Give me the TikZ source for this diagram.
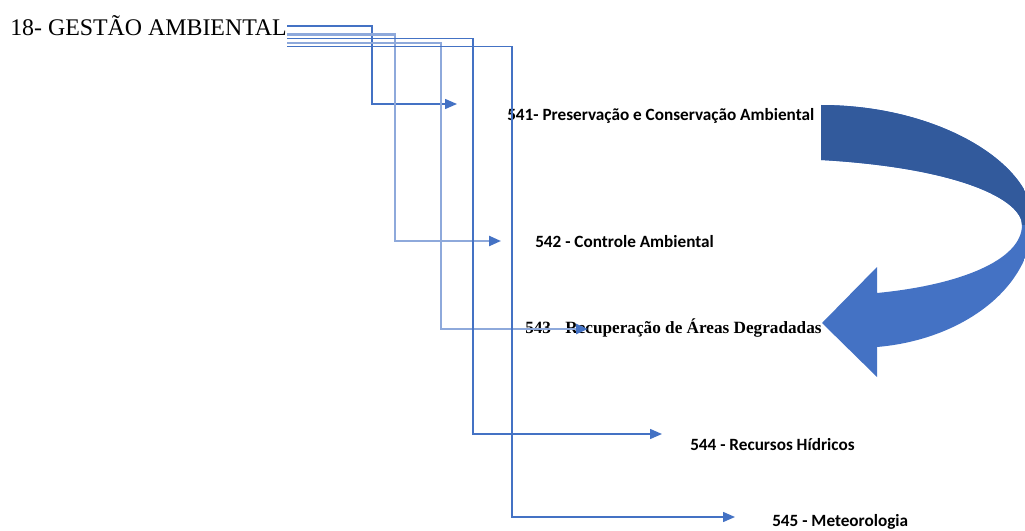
\documentclass[tikz,border=0pt]{standalone}
\usepackage{fontspec}
\setmainfont{Liberation Serif}
\newfontfamily\calib{Carlito}
\usetikzlibrary{arrows.meta}
\definecolor{lnblue}{HTML}{4472C4}
\definecolor{lnlight}{HTML}{8EA9DB}
\definecolor{darkblue}{HTML}{325A9C}
\definecolor{bigblue}{HTML}{4472C4}
\begin{document}
\begin{tikzpicture}[x=0.75pt,y=-0.75pt,
  conn/.style={draw=lnblue,line width=1.1pt,-{Triangle[length=9pt,width=7.5pt,color=lnblue]}},
  connl/.style={conn,draw=lnlight,line width=1.7pt},
  lab/.style={anchor=west,inner sep=0pt,font=\calib\bfseries\fontsize{12.9}{15}\selectfont},
  labs/.style={anchor=west,inner sep=0pt,font=\bfseries\fontsize{12.9}{15}\selectfont},
]
\useasboundingbox (0,0) rectangle (1025,531);
\clip (0,0) rectangle (1025,531);

% big curved arrow
\begin{scope}
  \clip (821,105) .. controls (940,105) and (1035,165) .. (1033,222)
        .. controls (1031,290) and (960,340) .. (877,347)
        -- (877,377) -- (822,323) -- (877,267) -- (877,293)
        .. controls (960,285) and (1022,260) .. (1022,225)
        .. controls (1022,200) and (960,168) .. (821,160) -- cycle;
  \fill[bigblue] (800,90) rectangle (1060,400);
  \fill[darkblue] (800,90) rectangle (1060,225);
\end{scope}

% title and labels
\node[anchor=west,inner sep=0pt,font=\fontsize{17.9}{20}\selectfont] (title) at (10,26) {18- GESTÃO AMBIENTAL};
\node[lab] (l541) at (507,116) {541- Preservação e Conservação Ambiental};
\node[lab] (l542) at (535,242) {542 - Controle Ambiental};
\node[labs] (l543) at (525,328) {543 - Recuperação de Áreas Degradadas};
\node[lab] (l544) at (690,445) {544 - Recursos Hídricos};
\node[lab] (l545) at (772,522) {545 - Meteorologia};

% connector ends
\coordinate (s1) at (287,26);
\coordinate (s2) at (287,34.5);
\coordinate (s4) at (287,38.5);
\coordinate (s3) at (287,43);
\coordinate (s5) at (287,46.5);
\coordinate (t1) at (457,104);
\coordinate (t2) at (501,241);
\coordinate (t3) at (588,329);
\coordinate (t4) at (662,434);
\coordinate (t5) at (735,517);

\draw[conn]  (s1) -- ++(85,0) |- (t1);
\draw[connl] (s2) -- ++(108,0) |- (t2);
\draw[connl] (s3) -- ++(154,0) |- (t3);
\draw[conn]  (s4) -- ++(186,0) |- (t4);
\draw[conn]  (s5) -- ++(225,0) |- (t5);
\end{tikzpicture}
\end{document}
